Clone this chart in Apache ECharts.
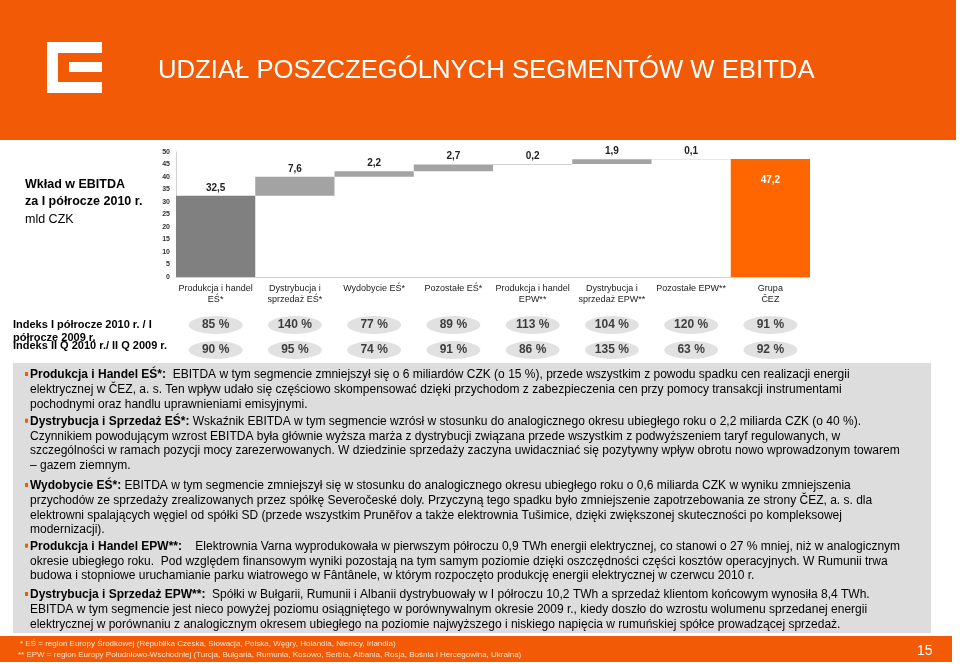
<!DOCTYPE html>
<html>
<head>
<meta charset="utf-8">
<script src="https://cdn.jsdelivr.net/npm/echarts@6/dist/echarts.min.js"></script>
<style>
html,body{margin:0;padding:0;background:#fff;}
#c{width:960px;height:664px;}
</style>
</head>
<body>
<div id="c"></div>
<script>
// ---- data ----
const categories = ['Produkcja i handel\nEŚ*','Dystrybucja i\nsprzedaż EŚ*','Wydobycie EŚ*','Pozostałe EŚ*','Produkcja i handel\nEPW**','Dystrybucja i\nsprzedaż EPW**','Pozostałe EPW**','Grupa\nČEZ'];
const values = [32.5, 7.6, 2.2, 2.7, 0.2, 1.9, 0.1, 47.2];
const isTotal = [false, false, false, false, false, false, false, true];
const yTicks = [0, 5, 10, 15, 20, 25, 30, 35, 40, 45, 50];
const indexH1 = [85, 140, 77, 89, 113, 104, 120, 91];
const indexQ2 = [90, 95, 74, 91, 86, 135, 63, 92];

const FONT = '"Liberation Sans", Arial, sans-serif';

// waterfall bases from cumulative sums
const bases = [];
let cum = 0;
values.forEach((v, i) => {
  if (isTotal[i]) { bases.push(0); } else { bases.push(cum); cum += v; }
});
const fmt = v => v.toFixed(1).replace('.', ',');

const barColors = values.map((v, i) => isTotal[i] ? '#FF6600' : (i === 0 ? '#808080' : '#A3A3A3'));

const paragraphs = [
  { y: 375, lines: [
    '{b|Produkcja i Handel EŚ*:}  EBITDA w tym segmencie zmniejszył się o 6 miliardów CZK (o 15 %), przede wszystkim z powodu spadku cen realizacji energii',
    'elektrycznej w ČEZ, a. s. Ten wpływ udało się częściowo skompensować dzięki przychodom z zabezpieczenia cen przy pomocy transakcji instrumentami',
    'pochodnymi oraz handlu uprawnieniami emisyjnymi.'] },
  { y: 421.7, lines: [
    '{b|Dystrybucja i Sprzedaż EŚ*:} Wskaźnik EBITDA w tym segmencie wzrósł w stosunku do analogicznego okresu ubiegłego roku o 2,2 miliarda CZK (o 40 %).',
    'Czynnikiem powodującym wzrost EBITDA była głównie wyższa marża z dystrybucji związana przede wszystkim z podwyższeniem taryf regulowanych, w',
    'szczególności w ramach pozycji mocy zarezerwowanych. W dziedzinie sprzedaży zaczyna uwidaczniać się pozytywny wpływ obrotu nowo wprowadzonym towarem',
    '– gazem ziemnym.'] },
  { y: 486, lines: [
    '{b|Wydobycie EŚ*:} EBITDA w tym segmencie zmniejszył się w stosunku do analogicznego okresu ubiegłego roku o 0,6 miliarda CZK w wyniku zmniejszenia',
    'przychodów ze sprzedaży zrealizowanych przez spółkę Severočeské doly. Przyczyną tego spadku było zmniejszenie zapotrzebowania ze strony ČEZ, a. s. dla',
    'elektrowni spalających węgiel od spółki SD (przede wszystkim Pruněřov a także elektrownia Tušimice, dzięki zwiększonej skuteczności po kompleksowej',
    'modernizacji).'] },
  { y: 546.7, lines: [
    '{b|Produkcja i Handel EPW**:}    Elektrownia Varna wyprodukowała w pierwszym półroczu 0,9 TWh energii elektrycznej, co stanowi o 27 % mniej, niż w analogicznym',
    'okresie ubiegłego roku.  Pod względem finansowym wyniki pozostają na tym samym poziomie dzięki oszczędności części kosztów operacyjnych. W Rumunii trwa',
    'budowa i stopniowe uruchamianie parku wiatrowego w Fântânele, w którym rozpoczęto produkcję energii elektrycznej w czerwcu 2010 r.'] },
  { y: 595, lines: [
    '{b|Dystrybucja i Sprzedaż EPW**:}  Spółki w Bułgarii, Rumunii i Albanii dystrybuowały w I półroczu 10,2 TWh a sprzedaż klientom końcowym wynosiła 8,4 TWh.',
    'EBITDA w tym segmencie jest nieco powyżej poziomu osiągniętego w porównywalnym okresie 2009 r., kiedy doszło do wzrostu wolumenu sprzedanej energii',
    'elektrycznej w porównaniu z analogicznym okresem ubiegłego na poziomie najwyższego i niskiego napięcia w rumuńskiej spółce prowadzącej sprzedaż.'] }
];

const PFS = 12, PLH = 14.6;
const graphics = [
  // header band
  { type: 'rect', shape: { x: 0, y: 0, width: 956, height: 140 }, style: { fill: '#F25A05' }, z: 0 },
  // logo
  { type: 'rect', shape: { x: 47, y: 42, width: 55, height: 11 }, style: { fill: '#fff' } },
  { type: 'rect', shape: { x: 47, y: 42, width: 11, height: 51 }, style: { fill: '#fff' } },
  { type: 'rect', shape: { x: 47, y: 82, width: 55, height: 11 }, style: { fill: '#fff' } },
  { type: 'rect', shape: { x: 69, y: 62, width: 33, height: 10 }, style: { fill: '#fff' } },
  { type: 'text', x: 158, y: 71, style: { text: 'UDZIAŁ POSZCZEGÓLNYCH SEGMENTÓW W EBITDA', fill: '#fff', fontSize: 25.7, fontFamily: FONT, verticalAlign: 'middle' } },
  // left chart title
  { type: 'text', x: 25, y: 185, style: { text: 'Wkład w EBITDA', fill: '#000', fontSize: 12.5, fontWeight: 'bold', fontFamily: FONT, verticalAlign: 'middle' } },
  { type: 'text', x: 25, y: 202, style: { text: 'za I półrocze 2010 r.', fill: '#000', fontSize: 12.5, fontWeight: 'bold', fontFamily: FONT, verticalAlign: 'middle' } },
  { type: 'text', x: 25, y: 220, style: { text: 'mld CZK', fill: '#000', fontSize: 12.5, fontFamily: FONT, verticalAlign: 'middle' } },
  // index row labels
  { type: 'text', x: 13, y: 325, style: { text: 'Indeks I półrocze 2010 r. / I', fill: '#000', fontSize: 11, fontWeight: 'bold', fontFamily: FONT, verticalAlign: 'middle' } },
  { type: 'text', x: 13, y: 338, style: { text: 'półrocze 2009 r.', fill: '#000', fontSize: 11, fontWeight: 'bold', fontFamily: FONT, verticalAlign: 'middle' } },
  { type: 'text', x: 13, y: 346, style: { text: 'Indeks II Q 2010 r./ II Q 2009 r.', fill: '#000', fontSize: 11, fontWeight: 'bold', fontFamily: FONT, verticalAlign: 'middle' } },
  // gray text box
  { type: 'rect', shape: { x: 13, y: 363, width: 918, height: 270 }, style: { fill: '#DDDDDD' }, z: 0 },
  // footer
  { type: 'rect', shape: { x: 0, y: 636, width: 952, height: 26 }, style: { fill: '#F25A05' }, z: 0 },
  { type: 'text', x: 20, y: 644, style: { text: '* EŚ = region Europy Środkowej (Republika Czeska, Słowacja, Polska, Węgry, Holandia, Niemcy, Irlandia)', fill: '#FFE0CC', fontSize: 8, fontFamily: FONT, verticalAlign: 'middle' } },
  { type: 'text', x: 18, y: 655, style: { text: '** EPW = region Europy Południowo-Wschodniej (Turcja, Bułgaria, Rumunia, Kosowo, Serbia, Albania, Rosja, Bośnia i Hercegowina, Ukraina)', fill: '#FFE0CC', fontSize: 8, fontFamily: FONT, verticalAlign: 'middle' } },
  { type: 'text', x: 917, y: 651, style: { text: '15', fill: '#fff', fontSize: 14, fontFamily: FONT, verticalAlign: 'middle' } }
];
paragraphs.forEach(p => {
  graphics.push({ type: 'rect', shape: { x: 25, y: p.y - 3, width: 3, height: 4 }, style: { fill: '#F25A05' }, z: 2 });
  graphics.push({ type: 'text', x: 30, y: p.y - PLH / 2, z: 2, style: {
    text: p.lines.join('\n'), fill: '#000', fontSize: PFS, fontFamily: FONT, lineHeight: PLH, verticalAlign: 'top',
    rich: { b: { fontWeight: 'bold', fontSize: PFS, fontFamily: FONT, lineHeight: PLH, fill: '#000' } }
  } });
});

const chart = echarts.init(document.getElementById('c'), null, { renderer: 'canvas' });
chart.setOption({
  animation: false,
  backgroundColor: '#fff',
  textStyle: { fontFamily: FONT },
  graphic: graphics,
  grid: [
    { left: 176, right: 150, top: 152, bottom: 387 },
    { left: 176, right: 150, top: 300, height: 75 }
  ],
  xAxis: [
    { type: 'category', gridIndex: 0, data: categories,
      axisLine: { lineStyle: { color: '#D0D0D0' } }, axisTick: { show: false },
      axisLabel: { interval: 0, fontSize: 9, color: '#222', lineHeight: 11, margin: 6, fontFamily: FONT } },
    { type: 'category', gridIndex: 1, data: categories, show: false }
  ],
  yAxis: [
    { type: 'value', gridIndex: 0, min: yTicks[0], max: yTicks[yTicks.length - 1], interval: 5,
      axisLine: { show: true, lineStyle: { color: '#D0D0D0' } }, axisTick: { show: false }, splitLine: { show: false },
      axisLabel: { fontSize: 7, fontWeight: 'bold', color: '#333', margin: 6, fontFamily: FONT } },
    { type: 'value', gridIndex: 1, min: 0, max: 3, show: false }
  ],
  series: [
    { type: 'bar', stack: 'w', xAxisIndex: 0, yAxisIndex: 0, data: bases, itemStyle: { color: 'transparent' },
      barWidth: '100%', barCategoryGap: 0, silent: true },
    { type: 'bar', stack: 'w', xAxisIndex: 0, yAxisIndex: 0, barWidth: '100%', barCategoryGap: 0,
      data: values.map((v, i) => ({
        value: v,
        itemStyle: { color: barColors[i] },
        label: isTotal[i]
          ? { show: true, position: 'insideTop', distance: 16, color: '#fff', fontWeight: 'bold', fontSize: 10, formatter: p => fmt(p.value) }
          : { show: true, position: 'top', distance: 3, color: '#222', fontWeight: 'bold', fontSize: 10, formatter: p => fmt(p.value) }
      })) },
    { type: 'scatter', xAxisIndex: 1, yAxisIndex: 1, symbol: 'circle', symbolSize: [54, 18],
      itemStyle: { color: '#DADADA' },
      data: indexH1.map((v, i) => [i, 2, v]),
      label: { show: true, position: 'inside', formatter: p => p.value[2] + ' %', color: '#111', fontSize: 12, fontWeight: 'bold', fontFamily: FONT } },
    { type: 'scatter', xAxisIndex: 1, yAxisIndex: 1, symbol: 'circle', symbolSize: [54, 18],
      itemStyle: { color: '#DADADA' },
      data: indexQ2.map((v, i) => [i, 1, v]),
      label: { show: true, position: 'inside', formatter: p => p.value[2] + ' %', color: '#111', fontSize: 12, fontWeight: 'bold', fontFamily: FONT } }
  ]
});
</script>
</body>
</html>
